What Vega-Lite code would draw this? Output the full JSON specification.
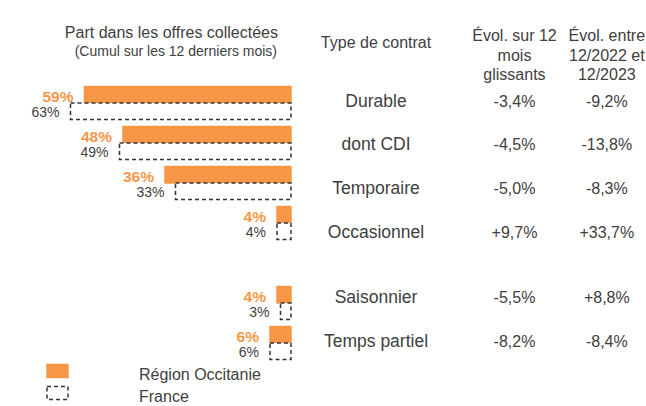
{
  "$schema": "https://vega.github.io/schema/vega-lite/v6.json",
  "width": 646,
  "height": 406,
  "padding": 0,
  "autosize": {"type": "none"},
  "background": "white",
  "config": {"view": {"stroke": null}, "font": "Liberation Sans", "text": {"font": "Liberation Sans"}},
  "datasets": {
    "bars": [
      {"type": "Durable", "serie": "Région Occitanie", "value": 0.59},
      {"type": "dont CDI", "serie": "Région Occitanie", "value": 0.48},
      {"type": "Temporaire", "serie": "Région Occitanie", "value": 0.36},
      {"type": "Occasionnel", "serie": "Région Occitanie", "value": 0.04},
      {"type": "Saisonnier", "serie": "Région Occitanie", "value": 0.04},
      {"type": "Temps partiel", "serie": "Région Occitanie", "value": 0.06},
      {"type": "Durable", "serie": "France", "value": 0.63},
      {"type": "dont CDI", "serie": "France", "value": 0.49},
      {"type": "Temporaire", "serie": "France", "value": 0.33},
      {"type": "Occasionnel", "serie": "France", "value": 0.04},
      {"type": "Saisonnier", "serie": "France", "value": 0.03},
      {"type": "Temps partiel", "serie": "France", "value": 0.06}
    ],
    "table": [
      {"row": "Durable", "col": "type", "label": "Durable"},
      {"row": "Durable", "col": "evol12", "label": "-3,4%"},
      {"row": "Durable", "col": "evol3", "label": "-9,2%"},
      {"row": "dont CDI", "col": "type", "label": "dont CDI"},
      {"row": "dont CDI", "col": "evol12", "label": "-4,5%"},
      {"row": "dont CDI", "col": "evol3", "label": "-13,8%"},
      {"row": "Temporaire", "col": "type", "label": "Temporaire"},
      {"row": "Temporaire", "col": "evol12", "label": "-5,0%"},
      {"row": "Temporaire", "col": "evol3", "label": "-8,3%"},
      {"row": "Occasionnel", "col": "type", "label": "Occasionnel"},
      {"row": "Occasionnel", "col": "evol12", "label": "+9,7%"},
      {"row": "Occasionnel", "col": "evol3", "label": "+33,7%"},
      {"row": "Saisonnier", "col": "type", "label": "Saisonnier"},
      {"row": "Saisonnier", "col": "evol12", "label": "-5,5%"},
      {"row": "Saisonnier", "col": "evol3", "label": "+8,8%"},
      {"row": "Temps partiel", "col": "type", "label": "Temps partiel"},
      {"row": "Temps partiel", "col": "evol12", "label": "-8,2%"},
      {"row": "Temps partiel", "col": "evol3", "label": "-8,4%"}
    ],
    "typeHeader": [{"row": "head", "col": "type", "label": "Type de contrat"}],
    "evolHeaders": [
      {"row": "head", "col": "evol12", "label": "Évol. sur 12\nmois\nglissants"},
      {"row": "head", "col": "evol3", "label": "Évol. entre\n12/2022 et\n12/2023"}
    ],
    "partTitle": [{"row": "head", "col": "part", "label": "Part dans les offres collectées"}],
    "partSub": [{"row": "H2", "col": "part", "label": "(Cumul sur les 12 derniers mois)"}]
  },
  "layer": [
    {
      "encoding": {
        "x": {"field": "value", "type": "quantitative", "scale": {"domain": [0, 1], "range": [291, -59], "nice": false}, "axis": null},
        "y": {"field": "type", "type": "nominal", "sort": null, "scale": {"domain": ["Durable", "dont CDI", "Temporaire", "Occasionnel", " ", "Saisonnier", "Temps partiel"], "range": [83, 363], "paddingInner": 0, "paddingOuter": 0}, "axis": null},
        "yOffset": {"field": "serie", "type": "nominal", "sort": null, "scale": {"domain": ["Région Occitanie", "France"], "paddingInner": 0, "paddingOuter": 0.21}}
      },
      "layer": [
        {
          "data": {"name": "bars"},
          "mark": {"type": "bar", "strokeWidth": 1.5},
          "encoding": {
            "fill": {"field": "serie", "type": "nominal", "scale": {"domain": ["Région Occitanie", "France"], "range": ["#F79646", "#ffffff"]},
              "legend": {"title": null, "orient": "none", "legendX": 46, "legendY": 363.5, "symbolType": "M-1,-1H1V0.24H-1Z", "symbolSize": 441, "symbolStrokeWidth": 1.5, "labelOffset": 70, "labelFontSize": 16, "labelColor": "#404040", "labelFont": "Liberation Sans", "rowPadding": 0, "padding": 0}},
            "stroke": {"field": "serie", "type": "nominal", "scale": {"domain": ["Région Occitanie", "France"], "range": ["#F79646", "#333333"]},
              "legend": {"title": null, "orient": "none", "legendX": 46, "legendY": 363.5, "symbolType": "M-1,-1H1V0.24H-1Z", "symbolSize": 441, "symbolStrokeWidth": 1.5, "labelOffset": 70, "labelFontSize": 16, "labelColor": "#404040", "labelFont": "Liberation Sans", "rowPadding": 0, "padding": 0}},
            "strokeDash": {"field": "serie", "type": "nominal", "scale": {"domain": ["Région Occitanie", "France"], "range": [[1, 0], [4, 3]]},
              "legend": {"title": null, "orient": "none", "legendX": 46, "legendY": 363.5, "symbolType": "M-1,-1H1V0.24H-1Z", "symbolSize": 441, "symbolStrokeWidth": 1.5, "labelOffset": 70, "labelFontSize": 16, "labelColor": "#404040", "labelFont": "Liberation Sans", "rowPadding": 0, "padding": 0}}
          }
        },
        {
          "data": {"name": "bars"},
          "transform": [{"filter": "datum.serie === 'Région Occitanie'"}],
          "mark": {"type": "text", "align": "right", "baseline": "middle", "dx": -11, "dy": 2, "fontSize": 15.5, "fontWeight": "bold", "color": "#F79646"},
          "encoding": {"text": {"field": "value", "type": "quantitative", "format": ".0%"}}
        },
        {
          "data": {"name": "bars"},
          "transform": [{"filter": "datum.serie === 'France'"}],
          "mark": {"type": "text", "align": "right", "baseline": "middle", "dx": -11, "dy": 1.5, "fontSize": 14, "color": "#404040"},
          "encoding": {"text": {"field": "value", "type": "quantitative", "format": ".0%"}}
        }
      ]
    },
    {
      "encoding": {
        "x": {"field": "col", "type": "nominal", "scale": {"type": "point", "domain": ["part", "q1", "type", "p1", "p2", "evol12", "p3", "evol3"], "range": [283.7, 606.8], "padding": 0}, "axis": null},
        "y": {"field": "row", "type": "nominal", "scale": {"type": "point", "domain": ["H0", "head", "H2", "H3", "Durable", "g1", "dont CDI", "g2", "Temporaire", "g3", "Occasionnel", "g4", "g5", "Saisonnier", "g6", "Temps partiel"], "range": [14.4, 341.7], "padding": 0}, "axis": null},
        "text": {"field": "label", "type": "nominal"}
      },
      "layer": [
        {"data": {"name": "table"}, "transform": [{"filter": "datum.col === 'type'"}], "mark": {"type": "text", "align": "center", "baseline": "middle", "fontSize": 17.5, "color": "#404040"}},
        {"data": {"name": "table"}, "transform": [{"filter": "datum.col !== 'type'"}], "mark": {"type": "text", "align": "center", "baseline": "middle", "fontSize": 16, "color": "#404040"}},
        {"data": {"name": "typeHeader"}, "mark": {"type": "text", "align": "center", "baseline": "middle", "dy": 6.5, "fontSize": 16, "color": "#404040"}},
        {"data": {"name": "evolHeaders"}, "mark": {"type": "text", "align": "center", "baseline": "middle", "fontSize": 16, "lineBreak": "\n", "lineHeight": 19.5, "color": "#404040"}},
        {"data": {"name": "partTitle"}, "mark": {"type": "text", "align": "right", "baseline": "middle", "dx": -5.7, "dy": -3, "fontSize": 16, "color": "#404040"}},
        {"data": {"name": "partSub"}, "mark": {"type": "text", "align": "right", "baseline": "middle", "dx": -6.7, "dy": -6.3, "fontSize": 14, "color": "#404040"}}
      ]
    }
  ],
  "resolve": {"scale": {"x": "independent", "y": "independent"}}
}
